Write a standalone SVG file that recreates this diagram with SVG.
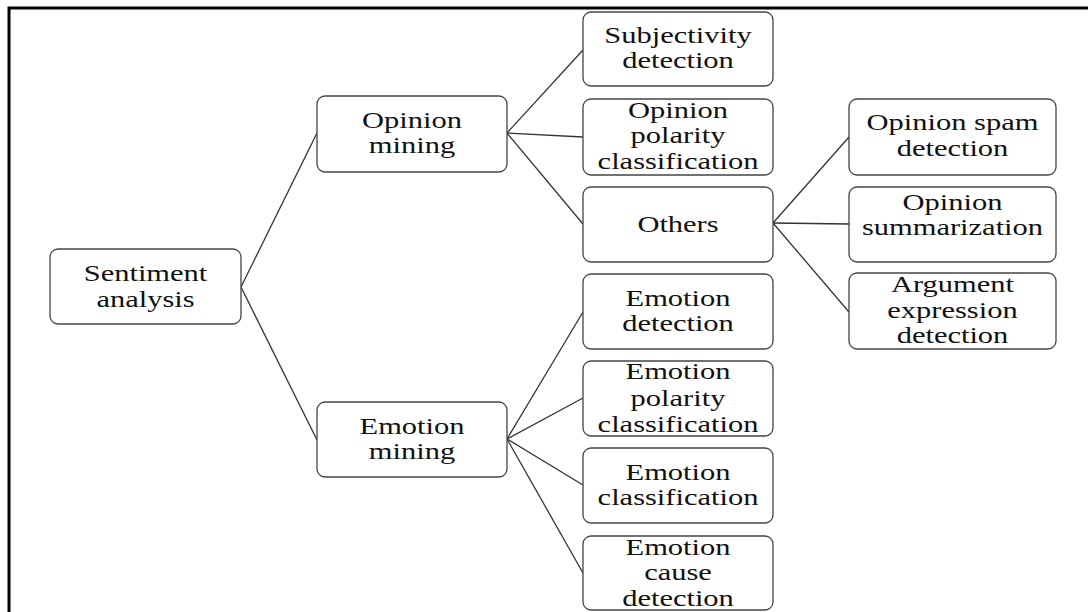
<svg xmlns="http://www.w3.org/2000/svg" width="1088" height="612" viewBox="0 0 1088 612">
<style>
.box{fill:#fff;stroke:#444;stroke-width:1.3}
.lbl{font-family:"Liberation Serif","Times New Roman",serif;font-size:24px;fill:#111;text-anchor:middle}
.con line{stroke:#333;stroke-width:1.3}
</style>
<rect x="9" y="8" width="1100" height="620" fill="#fff" stroke="#000" stroke-width="3"/>
<g class="con" id="connectors">
<line x1="241" y1="287" x2="317" y2="133"/>
<line x1="241" y1="287" x2="317" y2="440"/>
<line x1="507" y1="133" x2="583" y2="50"/>
<line x1="507" y1="133" x2="583" y2="137"/>
<line x1="507" y1="133" x2="583" y2="224"/>
<line x1="773" y1="223" x2="849" y2="137"/>
<line x1="773" y1="223" x2="849" y2="224"/>
<line x1="773" y1="223" x2="849" y2="312"/>
<line x1="507" y1="439" x2="583" y2="312"/>
<line x1="507" y1="439" x2="583" y2="398"/>
<line x1="507" y1="439" x2="583" y2="485"/>
<line x1="507" y1="439" x2="583" y2="573"/>
</g>
<g id="sentiment"><rect class="box" x="50" y="249" width="191" height="75" rx="8"/>
<g transform="translate(145.5 0) scale(1.27 1)"><text class="lbl" x="0" y="281">Sentiment</text><text class="lbl" x="0" y="307">analysis</text></g></g>
<g id="opinion-mining"><rect class="box" x="317" y="96" width="190" height="76" rx="8"/>
<g transform="translate(412 0) scale(1.27 1)"><text class="lbl" x="0" y="128">Opinion</text><text class="lbl" x="0" y="153">mining</text></g></g>
<g id="emotion-mining"><rect class="box" x="317" y="402" width="190" height="75" rx="8"/>
<g transform="translate(412 0) scale(1.27 1)"><text class="lbl" x="0" y="434">Emotion</text><text class="lbl" x="0" y="459">mining</text></g></g>
<g id="subjectivity"><rect class="box" x="583" y="12" width="190" height="74" rx="8"/>
<g transform="translate(678 0) scale(1.27 1)"><text class="lbl" x="0" y="43">Subjectivity</text><text class="lbl" x="0" y="68">detection</text></g></g>
<g id="opinion-polarity"><rect class="box" x="583" y="99" width="190" height="76" rx="8"/>
<g transform="translate(678 0) scale(1.27 1)"><text class="lbl" x="0" y="118">Opinion</text><text class="lbl" x="0" y="143">polarity</text><text class="lbl" x="0" y="169">classification</text></g></g>
<g id="others"><rect class="box" x="583" y="187" width="190" height="75" rx="8"/>
<g transform="translate(678 0) scale(1.27 1)"><text class="lbl" x="0" y="232">Others</text></g></g>
<g id="emotion-detection"><rect class="box" x="583" y="274" width="190" height="75" rx="8"/>
<g transform="translate(678 0) scale(1.27 1)"><text class="lbl" x="0" y="306">Emotion</text><text class="lbl" x="0" y="331">detection</text></g></g>
<g id="emotion-polarity"><rect class="box" x="583" y="361" width="190" height="75" rx="8"/>
<g transform="translate(678 0) scale(1.27 1)"><text class="lbl" x="0" y="379">Emotion</text><text class="lbl" x="0" y="406">polarity</text><text class="lbl" x="0" y="432">classification</text></g></g>
<g id="emotion-classification"><rect class="box" x="583" y="448" width="190" height="75" rx="8"/>
<g transform="translate(678 0) scale(1.27 1)"><text class="lbl" x="0" y="480">Emotion</text><text class="lbl" x="0" y="505">classification</text></g></g>
<g id="emotion-cause"><rect class="box" x="583" y="536" width="190" height="74" rx="8"/>
<g transform="translate(678 0) scale(1.27 1)"><text class="lbl" x="0" y="555">Emotion</text><text class="lbl" x="0" y="580">cause</text><text class="lbl" x="0" y="606">detection</text></g></g>
<g id="opinion-spam"><rect class="box" x="849" y="99" width="207" height="76" rx="8"/>
<g transform="translate(952.5 0) scale(1.27 1)"><text class="lbl" x="0" y="130">Opinion spam</text><text class="lbl" x="0" y="156">detection</text></g></g>
<g id="opinion-summarization"><rect class="box" x="849" y="187" width="207" height="75" rx="8"/>
<g transform="translate(952.5 0) scale(1.27 1)"><text class="lbl" x="0" y="210">Opinion</text><text class="lbl" x="0" y="235">summarization</text></g></g>
<g id="argument-expression"><rect class="box" x="849" y="273" width="207" height="76" rx="8"/>
<g transform="translate(952.5 0) scale(1.27 1)"><text class="lbl" x="0" y="292">Argument</text><text class="lbl" x="0" y="318">expression</text><text class="lbl" x="0" y="343">detection</text></g></g>
</svg>
